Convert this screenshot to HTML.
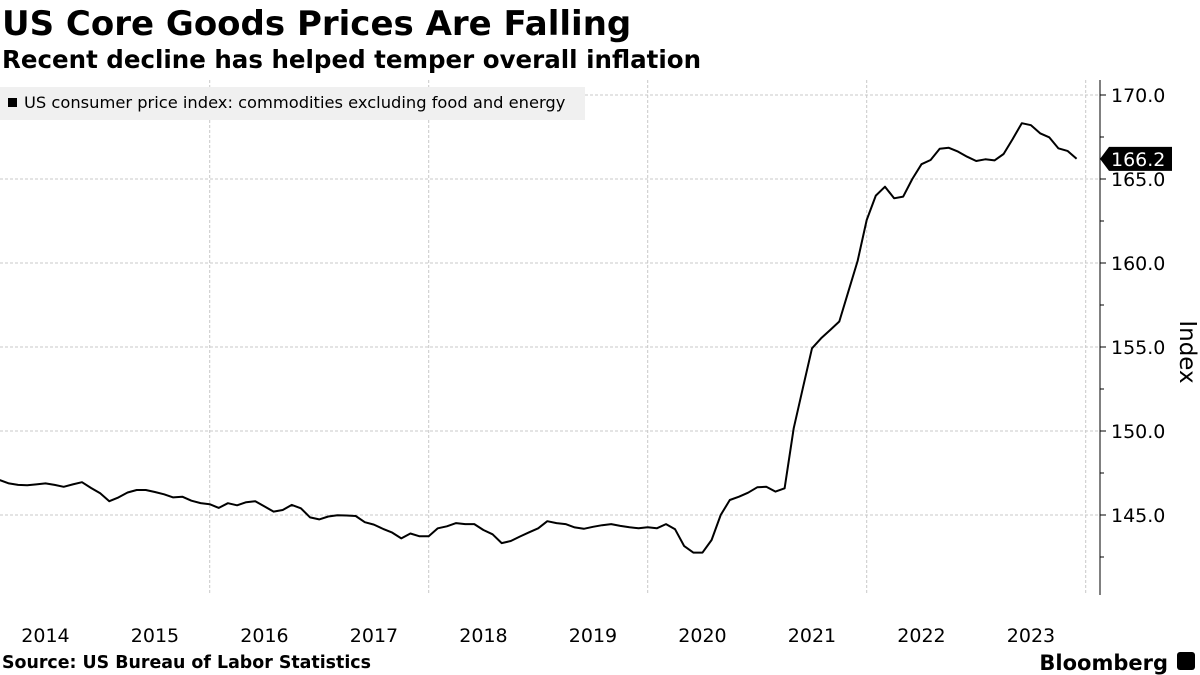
<!DOCTYPE html>
<html><head><meta charset="utf-8"><style>
html,body{margin:0;padding:0;background:#fff;width:1200px;height:675px;overflow:hidden}
svg{display:block}
</style></head><body>
<svg id="chart" width="1200" height="675" xmlns="http://www.w3.org/2000/svg">
<text x="2" y="35" font-family="DejaVu Sans, sans-serif" font-weight="bold" font-size="34" fill="#000">US Core Goods Prices Are Falling</text>
<text x="2" y="68" font-family="DejaVu Sans, sans-serif" font-weight="bold" font-size="24.5" fill="#000">Recent decline has helped temper overall inflation</text>
<g id="grid"></g>
<rect x="0" y="87" width="585" height="33" fill="#f0f0f0"/>
<rect x="8" y="98" width="9" height="9" fill="#000"/>
<text x="24" y="108" font-family="DejaVu Sans, sans-serif" font-size="16.3" fill="#000">US consumer price index: commodities excluding food and energy</text>
<g id="series"></g>
<g id="axes"></g>
<text transform="translate(1180,352) rotate(90)" text-anchor="middle" font-family="DejaVu Sans, sans-serif" font-size="23" fill="#000">Index</text>
<text x="2" y="668" font-family="DejaVu Sans, sans-serif" font-weight="bold" font-size="17.4" fill="#000">Source: US Bureau of Labor Statistics</text>
<text x="1168" y="670" text-anchor="end" font-family="DejaVu Sans, sans-serif" font-weight="bold" font-size="21" fill="#000">Bloomberg</text>
<rect x="1177" y="652" width="18" height="18" rx="3" fill="#000"/>
</svg>
<script>
const yearLabels = ["2014","2015","2016","2017","2018","2019","2020","2021","2022","2023"];
const yTicks = [145,150,155,160,165,170];
const startMonth = 1; // index of first month relative to Jan 2014
const values = [147.08,146.88,146.79,146.77,146.82,146.88,146.79,146.68,146.82,146.95,
146.61,146.29,145.82,146.05,146.34,146.49,146.49,146.37,146.23,146.05,
146.09,145.85,145.71,145.64,145.42,145.70,145.58,145.76,145.82,145.51,
145.20,145.30,145.60,145.40,144.86,144.74,144.91,144.99,144.97,144.94,
144.57,144.43,144.17,143.95,143.61,143.90,143.73,143.73,144.21,144.33,
144.52,144.46,144.46,144.11,143.85,143.33,143.45,143.72,143.97,144.21,
144.63,144.52,144.46,144.26,144.18,144.30,144.39,144.46,144.35,144.27,
144.21,144.27,144.21,144.46,144.15,143.15,142.76,142.76,143.51,145.00,
145.89,146.09,146.33,146.65,146.68,146.39,146.59,150.16,152.54,154.92,
155.52,156.01,156.52,158.33,160.12,162.56,164.01,164.54,163.85,163.95,
165.00,165.88,166.13,166.80,166.86,166.63,166.33,166.07,166.17,166.11,
166.49,167.38,168.32,168.20,167.72,167.48,166.83,166.67,166.2];

const NS="http://www.w3.org/2000/svg";
const X0=-9.3, MW=9.125, PLOT_R=1100, PLOT_T=80, PLOT_B=595;
const xScale = m => X0 + m*MW;
const yScale = v => 515 - (v-145)*16.8;
function mk(tag, attrs, parent){const e=document.createElementNS(NS,tag);for(const k in attrs)e.setAttribute(k,attrs[k]);parent.appendChild(e);return e;}
const grid=document.getElementById('grid'), axes=document.getElementById('axes'), series=document.getElementById('series');

yTicks.forEach(t=>{
  const y=yScale(t);
  const l=mk('line',{x1:0,x2:PLOT_R,y1:y,y2:y,stroke:'#c8c8c8','stroke-dasharray':'3,2','stroke-width':1},grid);
  
  
  const tk=mk('line',{x1:PLOT_R,x2:PLOT_R+6,y1:y,y2:y,stroke:'#000','stroke-width':1},axes);
  
  
  const tx=mk('text',{x:PLOT_R+11,y:y+7,'font-family':'DejaVu Sans, sans-serif','font-size':19,fill:'#000'},axes);
  tx.textContent=t.toFixed(1);
  
  
  const mt=mk('line',{x1:PLOT_R,x2:PLOT_R+4,y1:y+42,y2:y+42,stroke:'#000','stroke-width':1},axes);
  
  
});
yearLabels.forEach((lab,i)=>{
  const xs=xScale(i*12), xe=xScale((i+1)*12);
  if(i%2===0 && i>0){
    const g=mk('line',{x1:xs,x2:xs,y1:PLOT_T,y2:PLOT_B,stroke:'#c8c8c8','stroke-dasharray':'3,2','stroke-width':1},grid);
    
    
  }
  const t=mk('text',{x:(xs+xe)/2,y:642,'text-anchor':'middle','font-family':'DejaVu Sans, sans-serif','font-size':19,fill:'#000'},axes);
  t.textContent=lab;
  
  
});
{
  const g=mk('line',{x1:xScale(120),x2:xScale(120),y1:PLOT_T,y2:PLOT_B,stroke:'#c8c8c8','stroke-dasharray':'3,2','stroke-width':1},grid);
  
  
}
const ax=mk('line',{x1:PLOT_R,x2:PLOT_R,y1:PLOT_T,y2:PLOT_B,stroke:'#000','stroke-width':1},axes);



const pts=values.map((v,i)=>xScale(startMonth+i).toFixed(1)+','+yScale(v).toFixed(1)).join(' ');
const line=mk('polyline',{points:pts,fill:'none',stroke:'#000','stroke-width':2,'stroke-linejoin':'round'},series);



const last=values[values.length-1], ly=yScale(last);
const badge=mk('path',{d:`M${PLOT_R},${ly} L${PLOT_R+9},${ly-12} L${PLOT_R+72},${ly-12} L${PLOT_R+72},${ly+12} L${PLOT_R+9},${ly+12} Z`,fill:'#000'},axes);


const bt=mk('text',{x:PLOT_R+11,y:ly+7,'font-family':'DejaVu Sans, sans-serif','font-size':19,fill:'#fff'},axes);
bt.textContent=last.toFixed(1);


</script>
</body></html>
